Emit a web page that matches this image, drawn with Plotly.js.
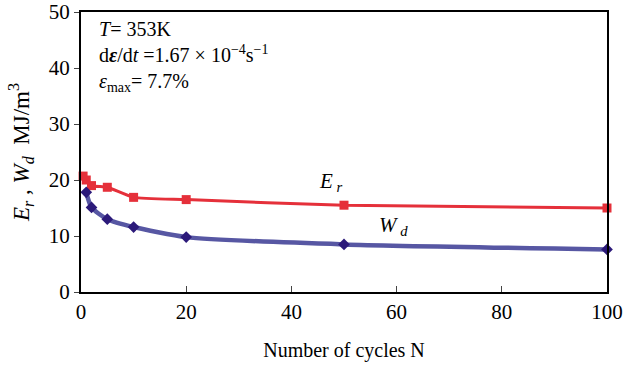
<!DOCTYPE html>
<html><head><meta charset="utf-8">
<script src="https://cdn.plot.ly/plotly-3.0.1.min.js"></script>
<style>body{margin:0;background:#fff}#c{width:624px;height:367px}</style>
</head><body><div id="c"></div>
<script>
const erN = [0.4, 1, 2, 5, 10, 20, 50, 100];
const erV = [20.7, 20.0, 19.0, 18.7, 16.9, 16.5, 15.5, 15.0];
const wdN = [1, 2, 5, 10, 20, 50, 100];
const wdV = [17.8, 15.1, 13.0, 11.6, 9.8, 8.5, 7.6];
const xTicks = [0, 20, 40, 60, 80, 100];
const yTicks = [0, 10, 20, 30, 40, 50];

const F = 'Liberation Serif, Times New Roman, serif';
const traces = [
  {x: erN, y: erV, mode: 'lines+markers', line: {color: '#e5303a', width: 3, shape: 'spline', smoothing: 0.5},
   marker: {symbol: 'square', size: 9, color: '#e5303a'}, cliponaxis: false},
  {x: wdN, y: wdV, mode: 'lines+markers', line: {color: '#5757a3', width: 4.5, shape: 'spline', smoothing: 0.6},
   marker: {symbol: 'diamond', size: 9, color: '#2c1a7a'}, cliponaxis: false}
];
const layout = {
  width: 624, height: 367, showlegend: false,
  margin: {l: 81, r: 17, t: 12, b: 75},
  paper_bgcolor: '#fff', plot_bgcolor: '#fff',
  font: {family: F, size: 20, color: '#000'},
  xaxis: {range: [0, 100], tickvals: xTicks, ticktext: xTicks.map(String), ticks: 'inside', ticklen: 6, tickwidth: 1,
    showline: true, linewidth: 2, linecolor: '#000', mirror: true, showgrid: false, zeroline: false,
    tickfont: {family: F, size: 21}, title: {text: 'Number of cycles N', font: {family: F, size: 20}, standoff: 20}},
  yaxis: {range: [0, 50], tickvals: yTicks, ticktext: yTicks.map(String), ticks: 'outside', ticklen: 5, tickwidth: 1,
    showline: true, linewidth: 2, linecolor: '#000', mirror: true, showgrid: false, zeroline: false,
    tickfont: {family: F, size: 21},
    title: {text: '<i>E</i><sub><i>r</i></sub> , <i>W</i><sub><i>d</i></sub>  MJ/m<sup>3</sup>', font: {family: F, size: 23}, standoff: 13}},
  annotations: [
    {xref: 'paper', yref: 'paper', x: 0.03, y: 0.985, xanchor: 'left', yanchor: 'top', showarrow: false, align: 'left',
     font: {family: F, size: 20},
     text: '<i>T</i>= 353K<br>d<b><i>ε</i></b>/d<i>t</i> =1.67 × 10<sup>−4</sup>s<sup>−1</sup><br><i>ε</i><sub>max</sub>= 7.7%'},
    {x: 47.5, y: 19.6, xref: 'x', yref: 'y', showarrow: false, font: {family: F, size: 21},
     text: '<i>E</i><sub> <i>r</i></sub>'},
    {x: 59.5, y: 11.8, xref: 'x', yref: 'y', showarrow: false, font: {family: F, size: 21},
     text: '<i>W</i><sub> <i>d</i></sub>'}
  ]
};
Plotly.newPlot('c', traces, layout, {displayModeBar: false, staticPlot: true});
</script></body></html>
